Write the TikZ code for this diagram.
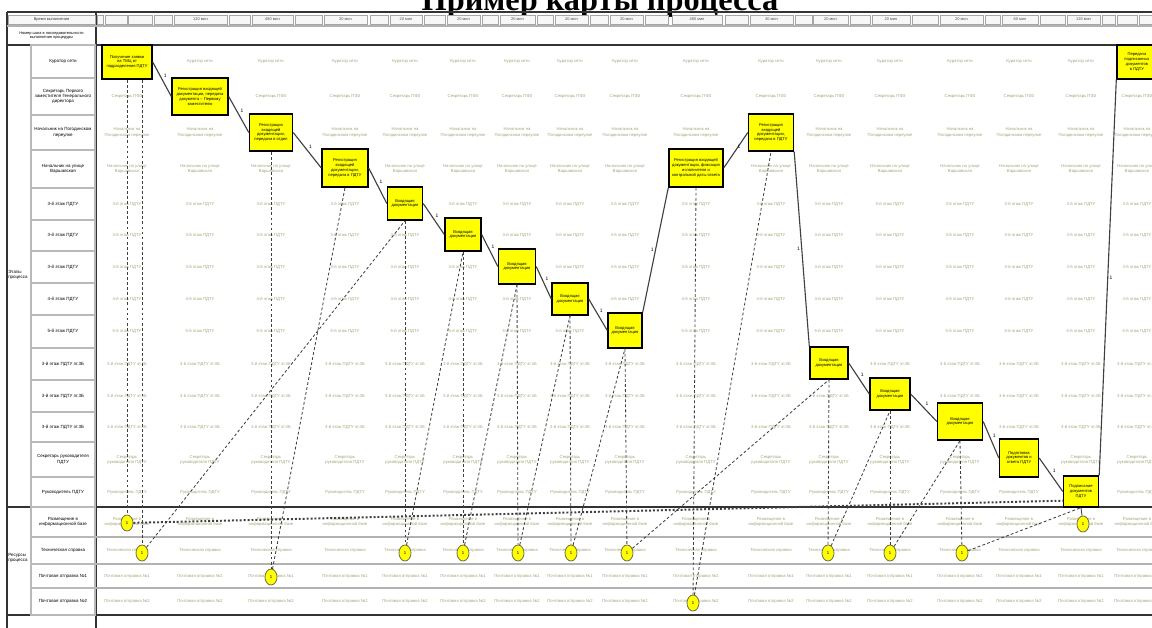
\documentclass[tikz,border=0pt]{standalone}
\usepackage{fontspec}
\setmainfont{Liberation Sans}
\newfontfamily\titlefont{Liberation Serif}
\usetikzlibrary{shapes.geometric, positioning, calc}

\definecolor{celltxt}{HTML}{A3A37A}
\definecolor{stepfill}{HTML}{FFFF00}
\definecolor{linegray}{HTML}{404040}

\begin{document}
\begin{tikzpicture}[
  x=0.025cm, y=-0.025cm,
  cell/.style={font=\fontsize{3}{3.6}\selectfont, text=celltxt, align=center, inner sep=0pt},
  rowlbl/.style={draw=gray!55, line width=0.9pt, minimum width=1.6cm, align=center,
                 font=\fontsize{3.2}{3.8}\selectfont, inner sep=0pt},
  stepbox/.style 2 args={draw, line width=1pt, fill=stepfill, minimum width=#1*0.025cm,
                 minimum height=#2*0.025cm, align=center, font=\fontsize{2.9}{3.4}\selectfont, inner sep=0pt},
  doc/.style={ellipse, draw=black!60!yellow, fill=stepfill, line width=0.6pt, minimum width=0.3cm,
              minimum height=0.4cm, inner sep=0pt, font=\fontsize{3}{3}\selectfont},
  flow/.style={draw=linegray, line width=0.8pt},
  link/.style={draw=linegray, line width=0.6pt, dash pattern=on 2pt off 1.6pt},
  dots/.style={draw=linegray, line width=1.4pt, dash pattern=on 1.4pt off 1.4pt},
  num/.style={font=\fontsize{3.5}{3.5}\selectfont, inner sep=1pt},
  heavyrule/.style={line width=1.4pt, black!80},
  greyrule/.style={line width=1pt, gray!60},
  hdr/.style={draw=gray!70, fill=gray!6, line width=0.5pt, minimum height=0.225cm, inner sep=0pt,
              font=\fontsize{2.8}{3}\selectfont, text=gray!60!black},
]
\useasboundingbox (0,0) rectangle (1152,628);
\def\colx{{0,127,200,271,345,405,463,517,570,625,696,771,829,890,960,1019,1081,1137}}

\node[font=\titlefont\bfseries\fontsize{23}{23}\selectfont, anchor=base] (title) at (600,11) {Пример карты процесса};

% frame
\draw[heavyrule] (7,12) -- (1160,12);
\draw[heavyrule] (7,12) -- (7,640);
\draw[heavyrule] (96,12) -- (96,640);
\draw[greyrule] (7,26) -- (1160,26);
\draw[heavyrule] (7,45) -- (1160,45);
\draw[heavyrule] (7,507) -- (1160,507);
\draw[heavyrule] (7,615) -- (1160,615);
\draw[black!70, line width=0.6pt] (30,45) -- (30,615);
\foreach \y in {537,564,588} \draw[greyrule] (96,\y) -- (1160,\y);

% header
\node[hdr, minimum width=2.175cm, text=black!80] (time) at (51.5,19.5) {Время выполнения};
\node[font=\fontsize{2.8}{3.4}\selectfont, align=center] (stepno) at (51.5,35.5) {Номер шага в последовательности\\выполнения процедуры};
\foreach \a/\b/\t [count=\i] in {97/103/{}, 105/127/{}, 128/152/{}, 154/172/{}, 174/227/{120 мин},
    229/250/{}, 252/293/{480 мин}, 295/322/{}, 324/367/{30 мин}, 370/388/{}, 390/422/{20 мин},
    424/445/{}, 447/480/{20 мин}, 482/498/{}, 500/535/{20 мин}, 537/553/{}, 555/588/{20 мин},
    590/608/{}, 610/643/{20 мин}, 645/668/{}, 672/722/{480 мин}, 725/748/{}, 750/793/{30 мин},
    795/812/{}, 813/848/{20 мин}, 850/870/{}, 872/910/{20 мин}, 912/938/{}, 940/983/{20 мин},
    985/1000/{}, 1002/1038/{60 мин}, 1040/1065/{}, 1067/1100/{120 мин}, 1102/1115/{},
    1117/1137/{}, 1139/1160/{}}
  \node[hdr, minimum width={(\b-\a)*0.025cm}] (t\i) at ({(\a+\b)/2},19.5) {\t};

\node[font=\fontsize{3.2}{3.8}\selectfont, align=left] (main) at (18,275) {Этапы\\процесса};
\node[font=\fontsize{3.2}{3.8}\selectfont, align=left] (aux) at (18,558) {Ресурсы\\процесса};

% rows: top/bottom/skipped columns/label/cell text
\foreach \ya/\yb/\skA/\skB/\lbl/\txt [count=\k] in {
  45/78/1/17/{Куратор сети}/{Куратор сети},
  78/115/2/0/{Секретарь Первого\\заместителя Генерального\\директора}/{Секретарь ПФЗ},
  115/150/3/11/{Начальник на Погодинском\\переулке}/{Начальник на\\Погодинском переулке},
  150/188/4/10/{Начальник на улице\\Варшавская}/{Начальник на улице\\Варшавская},
  188/220/5/0/{3-й этаж ПДТУ}/{3-й этаж ПДТУ},
  220/251/6/0/{3-й этаж ПДТУ}/{3-й этаж ПДТУ},
  251/283/7/0/{3-й этаж ПДТУ}/{3-й этаж ПДТУ},
  283/315/8/0/{4-й этаж ПДТУ}/{4-й этаж ПДТУ},
  315/348/9/0/{5-й этаж ПДТУ}/{5-й этаж ПДТУ},
  348/380/12/0/{3-й этаж ПДТУ эт.3Б}/{3-й этаж ПДТУ эт.3Б},
  380/412/13/0/{3-й этаж ПДТУ эт.3Б}/{3-й этаж ПДТУ эт.3Б},
  412/442/14/0/{3-й этаж ПДТУ эт.3Б}/{3-й этаж ПДТУ эт.3Б},
  442/477/15/0/{Секретарь руководителя\\ПДТУ}/{Секретарь\\руководителя ПДТУ},
  477/507/16/0/{Руководитель ПДТУ}/{Руководитель ПДТУ},
  507/537/0/0/{Размещение в\\информационной базе}/{Размещение в\\информационной базе},
  537/564/0/0/{Техническая справка}/{Техническая справка},
  564/588/0/0/{Почтовая отправка №1}/{Почтовая отправка №1},
  588/615/0/0/{Почтовая отправка №2}/{Почтовая отправка №2}}{
  \node[rowlbl, minimum height={(\yb-\ya)*0.025cm}] (lbl\k) at (63,{(\ya+\yb)/2}) {\lbl};
  \foreach \j in {1,...,17}{
    \ifnum\j=\skA\relax\else\ifnum\j=\skB\relax\else
      \pgfmathsetmacro\cx{\colx[\j]}
      \node[cell] (cell\k-\j) at (\cx,{(\ya+\yb)/2}) {\txt};
    \fi\fi
  }
}

% process steps
\node[stepbox={50}{34}] (s1) at (127,62) {Получение заявки\\на ТМЦ от\\подразделения ПДТУ};
\node[stepbox={56}{37}] (s2) at (200,96.5) {Регистрация входящей\\документации, передача\\документа~-- Первому\\заместителю};
\node[stepbox={43}{37}] (s3) at (271,132.5) {Регистрация\\входящей\\документации,\\передача в отдел};
\node[stepbox={46}{38}] (s4) at (345,168) {Регистрация\\входящей\\документации,\\передача в ПДТУ};
\node[stepbox={35}{33}] (s5) at (405,203.5) {Входящая\\документация};
\node[stepbox={36}{33}] (s6) at (463,234.5) {Входящая\\документация};
\node[stepbox={37}{35}] (s7) at (517,266.5) {Входящая\\документация};
\node[stepbox={36}{32}] (s8) at (570,299) {Входящая\\документация};
\node[stepbox={34}{35}] (s9) at (625,330.5) {Входящая\\документация};
\node[stepbox={54}{38}] (s10) at (696,168) {Регистрация входящей\\документации, фиксация\\исполнителя и\\контрольной даты ответа};
\node[stepbox={45}{37}] (s11) at (771,132.5) {Регистрация\\входящей\\документации,\\передача в ПДТУ};
\node[stepbox={38}{32}] (s12) at (829,363) {Входящая\\документация};
\node[stepbox={40}{32}] (s13) at (890,394) {Входящая\\документация};
\node[stepbox={45}{37}] (s14) at (960,421.5) {Входящая\\документация};
\node[stepbox={39}{38}] (s15) at (1019,458) {Подготовка\\документов и\\ответа ПДТУ};
\node[stepbox={35}{31}] (s16) at (1081,491.5) {Подписание\\документов\\ПДТУ};
\node[stepbox={40}{34}] (s17) at (1137,62) {Передача\\подписанных\\документов\\в ПДТУ};

% documents
\node[doc] (d1) at (127,523) {1};
\node[doc] (d2) at (142,553) {1};
\node[doc] (d3) at (271,577) {1};
\node[doc] (d4) at (405,553) {1};
\node[doc] (d5) at (463,553) {1};
\node[doc] (d6) at (518,553) {1};
\node[doc] (d7) at (571,553) {1};
\node[doc] (d8) at (627,553) {1};
\node[doc] (d9) at (693,603) {1};
\node[doc] (d10) at (828,553) {1};
\node[doc] (d11) at (890,553) {1};
\node[doc] (d12) at (962,553) {1};
\node[doc] (d13) at (1083,524) {1};

% sequence
\foreach \a/\b in {1/2,2/3,3/4,4/5,5/6,6/7,7/8,8/9,10/11,12/13,13/14,14/15,15/16}
  \draw[flow] (s\a.east) -- node[num, above right] {1} (s\b.west);
\draw[flow] (s9.north east) -- node[num, left] {1} (s10.south west);
\draw[flow] (s11.south east) -- node[num, left] {1} (s12.north west);
\draw[flow] (s16.north east) -- node[num, right] {1} (s17.south west);

% document links
\draw[link] (s1.south) -- (d1);
\draw[link] (s1.south -| d2) -- (d2);
\draw[link] (d2) -- (s5.south);
\draw[link] (s3.south) -- (d3);
\draw[link] (d3) -- (s4.south);
\foreach \a/\b/\c in {5/4/6, 6/5/7, 7/6/8, 8/7/9, 12/10/13, 13/11/14}{
  \draw[link] (s\a.south) -- (d\b);
  \draw[link] (d\b) -- (s\c.south);
}
\draw[link] (s9.south) -- (d8);
\draw[link] (d8) -- (s12.south);
\draw[link] (s10.south) -- (d9);
\draw[link] (d9) -- (s11.south);
\draw[link] (s14.south) -- (d12);
\draw[link] (d12) -- (s16.south);
\draw[flow, line width=0.6pt] (s16.south) -- (d13);
\draw[dots] (d1) -- ([yshift=0.175cm]s16.south west);
\end{tikzpicture}
\end{document}
